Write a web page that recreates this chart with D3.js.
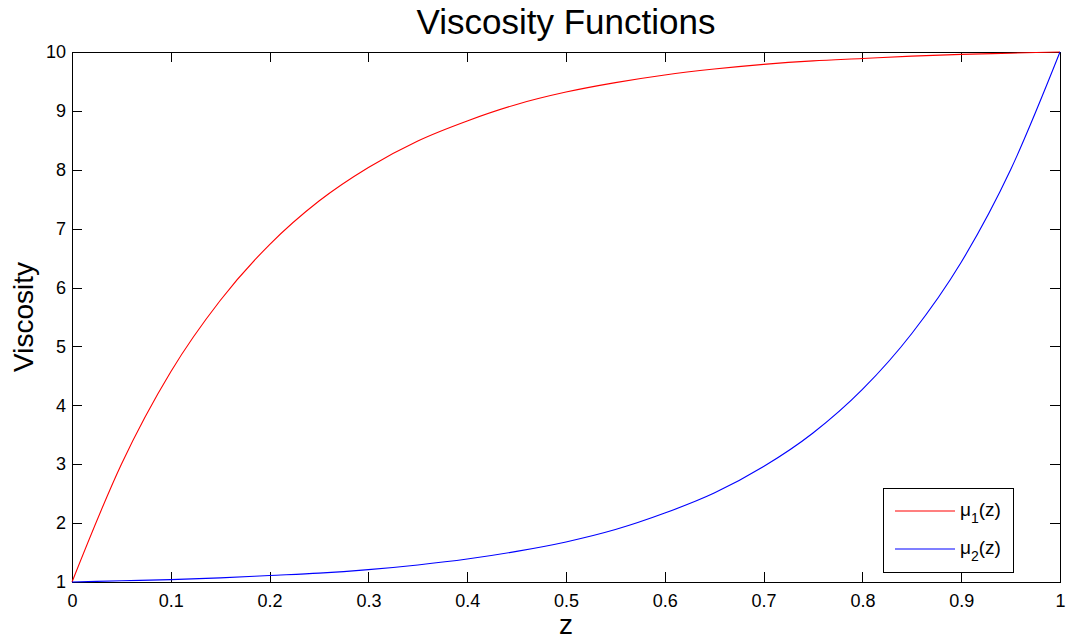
<!DOCTYPE html>
<html>
<head>
  <meta charset="utf-8" />
  <script src="https://d3js.org/d3.v7.min.js"></script>
  <style>
    * { margin: 0; padding: 0; }
    body { background: #fff; }
    svg { display: block; font-family: "Liberation Sans", Arial, sans-serif; }
    .axis path, .axis line { stroke: #000; shape-rendering: crispEdges; }
    .axis text { font-size: 18px; fill: #000; }
  </style>
</head>
<body>
  <svg width="1066" height="639"></svg>

  <script>
    // values, z step 0.05
    const zValues = [0, 0.05, 0.1, 0.15, 0.2, 0.25, 0.3, 0.35, 0.4, 0.45, 0.5,
                     0.55, 0.6, 0.65, 0.7, 0.75, 0.8, 0.85, 0.9, 0.95, 1];
    const mu1 = [1, 3.00, 4.57, 5.78, 6.73, 7.47, 8.04, 8.49, 8.83, 9.11, 9.32,
                 9.48, 9.61, 9.71, 9.79, 9.85, 9.89, 9.93, 9.96, 9.98, 10];
    const mu2 = [1, 1.02, 1.04, 1.07, 1.11, 1.15, 1.21, 1.29, 1.39, 1.52, 1.68,
                 1.89, 2.17, 2.51, 2.96, 3.53, 4.27, 5.22, 6.43, 8.00, 10];

    const xTicks = [0, 0.1, 0.2, 0.3, 0.4, 0.5, 0.6, 0.7, 0.8, 0.9, 1];
    const xTickLabels = ["0", "0.1", "0.2", "0.3", "0.4", "0.5", "0.6", "0.7", "0.8", "0.9", "1"];
    const yTicks = [1, 2, 3, 4, 5, 6, 7, 8, 9, 10];

    const seriesNames = ["1", "2"]; // subscripts of mu
    const seriesColors = ["#ff0000", "#0000ff"];

    const margin = { top: 52, left: 72, right: 6, bottom: 57 };
    const width = 1066 - margin.left - margin.right;
    const height = 639 - margin.top - margin.bottom;

    const svg = d3.select("svg");
    const g = svg.append("g").attr("transform", `translate(${margin.left},${margin.top})`);

    const x = d3.scaleLinear().domain([0, 1]).range([0, width]);
    const y = d3.scaleLinear().domain([1, 10]).range([height, 0]);

    // axes, ticks point inward on all four sides
    g.append("g").attr("class", "axis")
      .attr("transform", `translate(0,${height})`)
      .call(d3.axisBottom(x).tickValues(xTicks).tickFormat((d, i) => xTickLabels[i])
        .tickSizeInner(-10).tickSizeOuter(0).tickPadding(12));
    g.append("g").attr("class", "axis")
      .call(d3.axisTop(x).tickValues(xTicks).tickFormat("")
        .tickSizeInner(-10).tickSizeOuter(0));
    g.append("g").attr("class", "axis")
      .call(d3.axisLeft(y).tickValues(yTicks).tickFormat(d3.format("d"))
        .tickSizeInner(-10).tickSizeOuter(0).tickPadding(6));
    g.append("g").attr("class", "axis")
      .attr("transform", `translate(${width},0)`)
      .call(d3.axisRight(y).tickValues(yTicks).tickFormat("")
        .tickSizeInner(-10).tickSizeOuter(0));

    // lines
    const line = d3.line()
      .x((d, i) => x(zValues[i]))
      .y(d => y(d))
      .curve(d3.curveMonotoneX);

    [mu1, mu2].forEach((s, k) => {
      g.append("path")
        .datum(s)
        .attr("d", line)
        .attr("fill", "none")
        .attr("stroke", seriesColors[k])
        .attr("stroke-width", 1.1);
    });

    // title and axis labels
    svg.append("text")
      .attr("x", margin.left + width / 2)
      .attr("y", 34)
      .attr("text-anchor", "middle")
      .style("font-size", "35px")
      .text("Viscosity Functions");

    svg.append("text")
      .attr("x", margin.left + width / 2)
      .attr("y", 634)
      .attr("text-anchor", "middle")
      .style("font-size", "28px")
      .text("z");

    svg.append("text")
      .attr("transform", `translate(33,${margin.top + height / 2}) rotate(-90)`)
      .attr("text-anchor", "middle")
      .style("font-size", "28px")
      .text("Viscosity");

    // legend
    const legend = svg.append("g").attr("transform", "translate(883,488)");
    legend.append("rect")
      .attr("width", 130).attr("height", 84)
      .attr("fill", "#fff").attr("stroke", "#000")
      .style("shape-rendering", "crispEdges");

    seriesNames.forEach((n, k) => {
      const ly = 23 + k * 38;
      legend.append("line")
        .attr("x1", 12).attr("x2", 72)
        .attr("y1", ly).attr("y2", ly)
        .attr("stroke", seriesColors[k]).attr("stroke-width", 1.1);
      const t = legend.append("text")
        .attr("x", 77).attr("y", ly + 5)
        .style("font-size", "19px");
      t.append("tspan").text("\u03bc");
      t.append("tspan").attr("dy", 7).style("font-size", "14px").text(n);
      t.append("tspan").attr("dy", -7).text("(z)");
    });
  </script>
</body>
</html>
